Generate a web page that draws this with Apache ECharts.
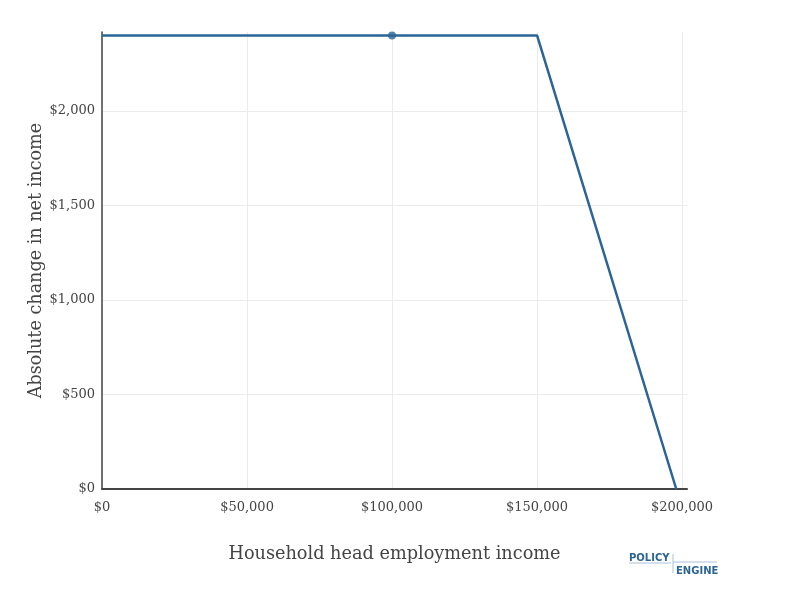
<!DOCTYPE html>
<html>
<head>
<meta charset="utf-8">
<script src="https://cdn.jsdelivr.net/npm/echarts@6/dist/echarts.min.js"></script>
<style>
	html, body { margin: 0; padding: 0; background: #fff; }
	#chart { width: 785px; height: 602px; }
</style>
</head>
<body>
<div id="chart"></div>
<script>
// employment income points and the change in net income at each
var incomes = [0, 100000, 150000, 198000]
var changes = [2400, 2400, 2400, 0]
var markerIncome = 100000
var markerChange = 2400
var xTicks = [0, 50000, 100000, 150000, 200000]
var yTicks = [0, 500, 1000, 1500, 2000]

var FONT = 'DejaVu Serif',
	LINE = '#2c6496',
	TEXT = '#444'

function money (v) {
	return '$' + Math.round(v).toLocaleString('en-US')
}

var chart = echarts.init(document.getElementById('chart'))

var option = {
	animation: false,
	backgroundColor: '#fff',
	grid: {
		left: 102,
		right: 98,
		top: 32,
		bottom: 113
	},
	xAxis: {
		type: 'value',
		min: 0,
		max: 201700,
		interval: 50000,
		name: 'Household head employment income',
		nameLocation: 'middle',
		nameGap: 56,
		nameMoveOverlap: false,
		nameTextStyle: {fontFamily: FONT, fontSize: 17.7, color: TEXT},
		axisLine: {show: true, onZero: false, lineStyle: {color: '#444', width: 2}},
		axisTick: {show: false},
		axisLabel: {
			fontFamily: FONT, fontSize: 13, color: TEXT, margin: 12,
			showMaxLabel: false,
			formatter: function (v) {
				return xTicks.indexOf(v) >= 0 ? money(v) : ''
			}
		},
		splitLine: {show: true, showMaxLine: false, lineStyle: {color: '#ebebeb', width: 1}}
	},
	yAxis: {
		type: 'value',
		min: 0,
		max: 2418,
		interval: 500,
		name: 'Absolute change in net income',
		nameLocation: 'middle',
		nameGap: 57,
		nameMoveOverlap: false,
		nameTextStyle: {fontFamily: FONT, fontSize: 17.6, color: TEXT},
		axisLine: {show: true, lineStyle: {color: '#444', width: 1.5}},
		axisTick: {show: false},
		axisLabel: {
			fontFamily: FONT, fontSize: 13, color: TEXT, margin: 7,
			showMaxLabel: false,
			formatter: function (v) {
				return yTicks.indexOf(v) >= 0 ? money(v) : ''
			}
		},
		splitLine: {show: true, showMaxLine: false, lineStyle: {color: '#ebebeb', width: 1}}
	},
	series: [{
		type: 'line',
		data: incomes.map(function (x, i) { return [x, changes[i]] }),
		showSymbol: false,
		lineStyle: {color: LINE, width: 2.5},
		z: 3
	}, {
		type: 'scatter',
		data: [[markerIncome, markerChange]],
		symbolSize: 8,
		itemStyle: {color: LINE},
		z: 4
	}],
	graphic: [
		{type: 'text', left: 629, top: 553, style: {text: 'POLICY', fill: '#2c6496', font: 'bold 10px "DejaVu Sans"', letterSpacing: 1.5}},
		{type: 'line', shape: {x1: 629, y1: 563, x2: 671, y2: 563}, style: {stroke: '#a8c0da', lineWidth: 1}},
		{type: 'line', shape: {x1: 673, y1: 554, x2: 673, y2: 573}, style: {stroke: '#a8c0da', lineWidth: 1}},
		{type: 'line', shape: {x1: 673, y1: 562, x2: 717, y2: 562}, style: {stroke: '#a8c0da', lineWidth: 1}},
		{type: 'text', left: 676, top: 566, style: {text: 'ENGINE', fill: '#2c6496', font: 'bold 10px "DejaVu Sans"', letterSpacing: 1.5}}
	]
}

chart.setOption(option)
</script>
</body>
</html>
